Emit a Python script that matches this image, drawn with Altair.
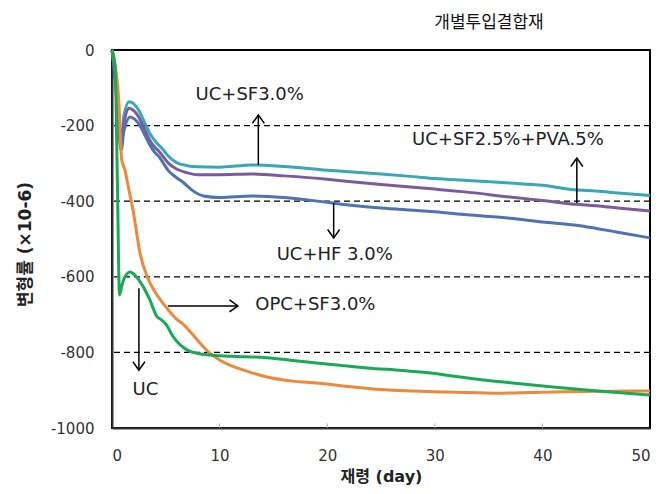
import altair as alt
import pandas as pd

# ---- data ----
series_names = ["UC+SF3.0%", "UC+SF2.5%+PVA.5%", "UC+HF 3.0%", "OPC+SF3.0%", "UC"]
series_colors = ["#3AA7B9", "#7B5A9E", "#4E72B2", "#EC8A3C", "#1AAA55"]

sf_day = [0, 0.3, 0.6, 0.85, 1.1, 1.6, 2.0, 2.5, 3.0, 3.5, 4.0, 4.3, 4.7, 5.2, 6.0, 7.0, 8.0,
          10, 13, 16, 20, 22, 25, 28, 30, 33, 37, 40, 43, 45, 47, 50]
sf_val = [0, -60, -170, -240, -175, -137, -142, -160, -190, -220, -240, -250, -262, -280, -298,
          -306, -309, -310, -304, -308, -318, -322, -328, -335, -340, -345, -352, -358, -370,
          -373, -378, -385]

pva_day = [0, 0.3, 0.6, 0.85, 1.1, 1.6, 2.0, 2.5, 3.0, 3.5, 4.0, 4.3, 4.7, 5.2, 6.0, 7.0, 8.0,
           10, 13, 16, 20, 22, 25, 28, 30, 33, 37, 40, 43, 45, 47, 50]
pva_val = [0, -70, -185, -255, -195, -154, -160, -178, -208, -238, -258, -266, -280, -298, -315,
           -325, -330, -330, -328, -333, -342, -348, -356, -363, -368, -376, -389, -398, -408,
           -412, -418, -426]

hf_day = [0, 0.3, 0.6, 0.85, 1.1, 1.7, 2.1, 2.6, 3.1, 3.6, 4.0, 4.3, 4.7, 5.2, 6.0, 6.6, 7.5,
          8.5, 10, 13, 16, 20, 22, 25, 28, 30, 33, 37, 40, 43, 45, 47, 50]
hf_val = [0, -80, -200, -265, -215, -177, -183, -200, -228, -255, -272, -280, -296, -318, -338,
          -350, -372, -386, -390, -386, -390, -403, -410, -418, -424, -428, -436, -445, -455,
          -463, -472, -482, -497]

opc_day = [0, 0.3, 0.6, 0.9, 1.2, 1.5, 2.0, 2.6, 3.4, 4.0, 4.3, 5.1, 6.0, 6.6, 8.2, 9.1, 10,
           12.8, 14.4, 16.8, 19, 22, 25, 28, 30, 33, 36, 39, 42, 45, 48, 50]
opc_val = [0, -40, -120, -290, -317, -360, -431, -537, -608, -640, -653, -683, -712, -725, -776,
           -802, -820, -852, -865, -876, -881, -890, -898, -902, -904, -906, -908, -906, -904,
           -903, -902, -902]

uc_day = [0, 0.3, 0.5, 0.7, 0.9, 1.2, 1.7, 2.2, 2.9, 3.5, 4.2, 4.5, 5.0, 5.7, 7.0, 8.0, 9.1,
          11, 14.4, 17, 19, 21.5, 23.7, 27, 29.8, 32, 34.5, 37, 39.1, 41.5, 43.8, 47, 50]
uc_val = [0, -50, -350, -648, -625, -600, -587, -598, -626, -660, -706, -712, -725, -759, -794,
          -803, -807, -810, -814, -822, -828, -835, -841, -848, -855, -864, -873, -880, -886,
          -893, -899, -906, -913]

grid_values = [-200, -400, -600, -800]
inner_ticks = [10, 20, 30, 40]

label_text = ["UC+SF3.0%", "UC+SF2.5%+PVA.5%", "UC+HF 3.0%", "OPC+SF3.0%", "UC"]
label_day = [12.8, 36.8, 20.7, 18.9, 3.1]
label_val = [-120, -238, -543, -675, -899]

arrow_x = [13.6, 43.2, 20.6, 5.2, 2.5]
arrow_y = [-304, -405, -405, -677, -630]
arrow_x2 = [13.6, 43.2, 20.6, 11.7, 2.5]
arrow_y2 = [-172, -286, -497, -677, -847]
arrow_dir = ["up", "up", "down", "right", "down"]

title_text = "개별투입결합재"
x_title = "재령 (day)"
y_title = "변형률 (×10-6)"

# ---- build tables ----
rows = []
for name, xs, ys in zip(series_names,
                        [sf_day, pva_day, hf_day, opc_day, uc_day],
                        [sf_val, pva_val, hf_val, opc_val, uc_val]):
    for i, (x, y) in enumerate(zip(xs, ys)):
        rows.append({"series": name, "day": x, "strain": y, "idx": i})
df = pd.DataFrame(rows)

grid_df = pd.DataFrame({"y": grid_values})
tick_df = pd.DataFrame({"x": inner_ticks, "y": [-1000] * 4, "y2": [-988] * 4})
lab_df = pd.DataFrame({"text": label_text, "day": label_day, "strain": label_val})
arr_df = pd.DataFrame({"x": arrow_x, "y": arrow_y, "x2": arrow_x2, "y2": arrow_y2, "dir": arrow_dir})

LABEL_FONT = "DejaVu Sans"
TITLE_FONT = "DejaVu Sans, Noto Sans CJK KR"

xscale = alt.Scale(domain=[0, 50], nice=False)
yscale = alt.Scale(domain=[-1000, 0], nice=False)

xaxis = alt.Axis(values=[0, 10, 20, 30, 40, 50], grid=False, ticks=False, title=x_title,
                 domainColor="#333333", domainWidth=2, labelFont=LABEL_FONT, labelFontSize=15,
                 labelColor="#333333", labelPadding=20, titleFont=TITLE_FONT,
                 titleFontSize=16, titleFontWeight="bold", titleColor="#222222",
                 titleY=48, titleBaseline="middle")
yaxis = alt.Axis(values=[0, -200, -400, -600, -800, -1000], labelExpr="datum.value + ''",
                 grid=False, ticks=False,
                 title=y_title, domainColor="#333333", domainWidth=2, labelFont=LABEL_FONT,
                 labelFontSize=15, labelColor="#333333", labelPadding=18,
                 titleFont=TITLE_FONT, titleFontSize=17, titleFontWeight="bold",
                 titleColor="#222222", titleX=-87, titleY=194, titleBaseline="middle",
                 titleAlign="center", titleAngle=-90)

grid = alt.Chart(grid_df).mark_rule(color="#000000", strokeWidth=1.2, strokeDash=[6, 4]).encode(
    y=alt.Y("y:Q", scale=yscale, axis=yaxis)
)

ticks = alt.Chart(tick_df).mark_rule(color="#aaaaaa", strokeWidth=1).encode(
    x=alt.X("x:Q", scale=xscale, axis=xaxis), y=alt.Y("y:Q", scale=yscale), y2="y2:Q"
)

lines = alt.Chart(df).mark_line(strokeWidth=3, interpolate="monotone").encode(
    x=alt.X("day:Q", scale=xscale, axis=xaxis),
    y=alt.Y("strain:Q", scale=yscale, axis=yaxis),
    color=alt.Color("series:N", scale=alt.Scale(domain=series_names, range=series_colors), legend=None),
    order="idx:Q",
)

arrows = alt.Chart(arr_df).mark_rule(color="#000000", strokeWidth=1.5).encode(
    x=alt.X("x:Q", scale=xscale), y=alt.Y("y:Q", scale=yscale), x2="x2:Q", y2="y2:Q"
)

heads = alt.Chart(arr_df).mark_point(filled=False, color="#000000", strokeWidth=1.5, opacity=1, size=144).encode(
    x=alt.X("x2:Q", scale=xscale), y=alt.Y("y2:Q", scale=yscale),
    shape=alt.Shape("dir:N", scale=alt.Scale(domain=["up", "down", "right"],
                                              range=["M-1,1.4L0,0L1,1.4", "M-1,-1.4L0,0L1,-1.4",
                                                     "M-1.4,-1L0,0L-1.4,1"]), legend=None),
)

labels = alt.Chart(lab_df).mark_text(font=LABEL_FONT, fontSize=18, color="#222222",
                                     align="center", baseline="middle").encode(
    x=alt.X("day:Q", scale=xscale), y=alt.Y("strain:Q", scale=yscale), text="text:N"
)

chart = alt.layer(grid, ticks, lines, arrows, heads, labels).properties(
    width=538, height=378,
    title=alt.TitleParams(title_text, font="Noto Sans CJK KR", fontSize=17, fontWeight="normal",
                          color="#111111", anchor="middle", dx=108, offset=11),
    autosize=alt.AutoSizeParams(type="none"),
    padding={"left": 104, "top": 42, "right": 14, "bottom": 58},
).configure_view(stroke="#000000", strokeWidth=2)

chart.save("out.html", embed_options={"renderer": "svg", "actions": False})
